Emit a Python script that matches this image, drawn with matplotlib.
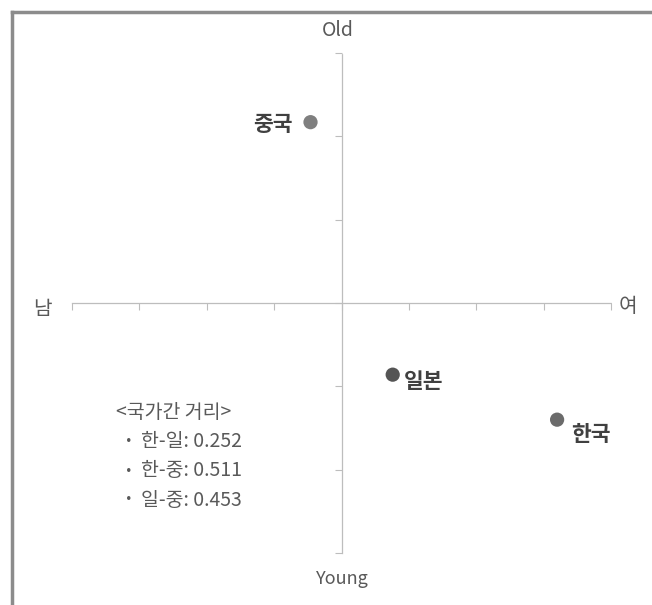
import matplotlib
matplotlib.use("Agg")
import matplotlib.pyplot as plt
from matplotlib.lines import Line2D

plt.rcParams['font.family'] = ['Noto Sans CJK KR', 'DejaVu Sans']

countries = ['중국', '일본', '한국']
x_vals = [-0.046, 0.076, 0.320]
y_vals = [0.217, -0.086, -0.140]
point_colors = ['#7f7f7f', '#555555', '#6b6b6b']
label_offsets = [(-18, -2), (11, -7), (14, -15)]
label_ha = ['right', 'left', 'left']

x_ticks = [-0.4, -0.3, -0.2, -0.1, 0.0, 0.1, 0.2, 0.3, 0.4]
y_ticks = [-0.3, -0.2, -0.1, 0.0, 0.1, 0.2, 0.3]

dist_title = '<국가간 거리>'
dist_pairs = ['한-일', '한-중', '일-중']
dist_values = [0.252, 0.511, 0.453]

W, H = 652, 605
fig = plt.figure(figsize=(W / 100, H / 100), dpi=100)
fig.patch.set_facecolor('white')

ax = fig.add_axes([72 / W, (H - 553) / H, (611 - 72) / W, 500 / H])
ax.set_xlim(-0.4, 0.4)
ax.set_ylim(-0.3, 0.3)
ax.set_facecolor('none')
for s in ['top', 'right']:
    ax.spines[s].set_visible(False)
for s in ['left', 'bottom']:
    ax.spines[s].set_position('zero')
    ax.spines[s].set_color('#bdbdbd')
    ax.spines[s].set_linewidth(0.9)
    ax.spines[s].set_linestyle((0, (3, 1)))
ax.set_xticks(x_ticks)
ax.set_yticks(y_ticks)
ax.tick_params(axis='both', direction='out', length=5, width=0.8, color='#bdbdbd',
               labelbottom=False, labelleft=False)

ax.scatter(x_vals, y_vals, s=105, c=point_colors, zorder=3, edgecolors='none')
for name, x, y, off, ha in zip(countries, x_vals, y_vals, label_offsets, label_ha):
    ax.annotate(name, (x, y), xytext=off, textcoords='offset pixels', ha=ha, va='center',
                fontsize=15.5, fontweight='bold', color='#404040')

txt_color = '#595959'
fig.text(338 / W, 1 - 30 / H, 'Old', ha='center', va='center', fontsize=14, color=txt_color)
fig.text(342 / W, 1 - 579 / H, 'Young', ha='center', va='center', fontsize=13, color=txt_color)
fig.text(42 / W, 1 - 310 / H, '남', ha='center', va='center', fontsize=14.5, color=txt_color)
fig.text(628 / W, 1 - 306 / H, '여', ha='center', va='center', fontsize=14.5, color=txt_color)

fig.text(116 / W, 1 - 412 / H, dist_title, ha='left', va='center', fontsize=14, color=txt_color)
for i, (p, v) in enumerate(zip(dist_pairs, dist_values)):
    yy = 1 - (442 + 29 * i) / H
    fig.text(123 / W, yy, '·', ha='left', va='center', fontsize=14, color=txt_color,
             fontweight='bold')
    fig.text(141 / W, yy, f'{p}: {v:.3f}', ha='left', va='center', fontsize=14, color=txt_color)

# frame of the screenshot (top and left edges)
fig.add_artist(Line2D([12 / W, 1], [1 - 12 / H, 1 - 12 / H], transform=fig.transFigure,
                      color='#8c8c8c', linewidth=2.5))
fig.add_artist(Line2D([12 / W, 12 / W], [0, 1 - 12 / H], transform=fig.transFigure,
                      color='#8c8c8c', linewidth=2.5))

fig.savefig('out.png', dpi=100, facecolor='white')
